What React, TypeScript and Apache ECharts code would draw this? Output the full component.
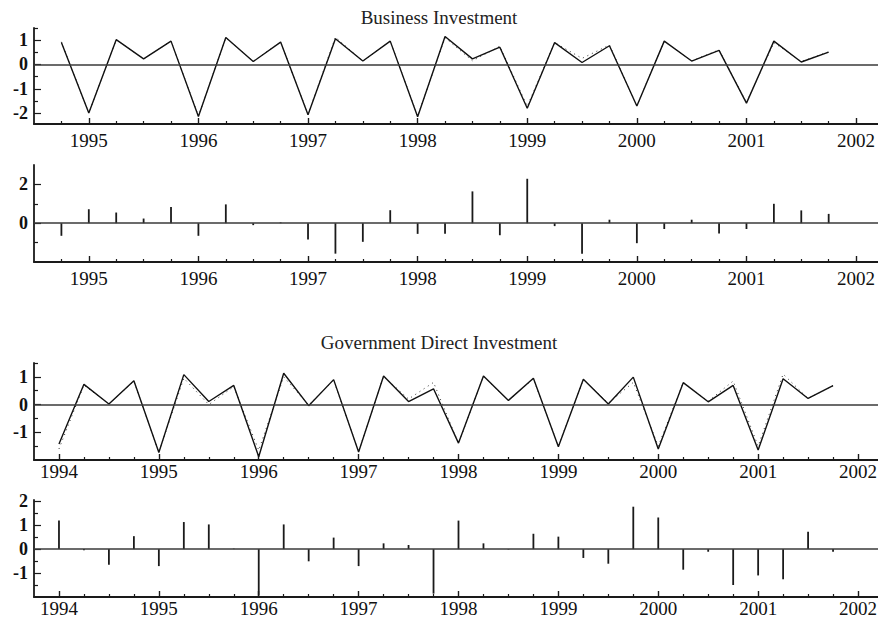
import React, { useEffect, useRef } from "react";
import * as echarts from "echarts";

// ---- Business Investment (quarterly, 1994Q4 - 2001Q4) ----
const bizQuarters = [
  1994.75, 1995.0, 1995.25, 1995.5, 1995.75, 1996.0, 1996.25, 1996.5, 1996.75,
  1997.0, 1997.25, 1997.5, 1997.75, 1998.0, 1998.25, 1998.5, 1998.75,
  1999.0, 1999.25, 1999.5, 1999.75, 2000.0, 2000.25, 2000.5, 2000.75,
  2001.0, 2001.25, 2001.5, 2001.75,
];
const bizActual = [
  0.9, -2.0, 1.02, 0.23, 0.96, -2.14, 1.11, 0.12, 0.92,
  -2.07, 1.06, 0.14, 0.96, -2.15, 1.15, 0.23, 0.71,
  -1.8, 0.9, 0.08, 0.77, -1.71, 0.96, 0.14, 0.58,
  -1.59, 0.96, 0.1, 0.51,
];
const bizFitted = [
  0.93, -2.0, 1.02, 0.23, 0.96, -2.12, 1.1, 0.13, 0.92,
  -2.05, 1.12, 0.14, 0.96, -2.13, 1.1, 0.15, 0.75,
  -1.72, 0.9, 0.25, 0.8, -1.7, 0.95, 0.15, 0.6,
  -1.57, 0.9, 0.12, 0.52,
];
const bizResidual = [
  -0.65, 0.72, 0.55, 0.24, 0.84, -0.65, 0.97, -0.1, 0.04,
  -0.84, -1.57, -0.96, 0.67, -0.55, -0.55, 1.64, -0.62,
  2.29, -0.15, -1.57, 0.18, -1.03, -0.3, 0.18, -0.53,
  -0.3, 1.0, 0.66, 0.48,
];

// ---- Government Direct Investment (quarterly, 1994Q1 - 2001Q4) ----
const govQuarters = [
  1994.0, 1994.25, 1994.5, 1994.75, 1995.0, 1995.25, 1995.5, 1995.75,
  1996.0, 1996.25, 1996.5, 1996.75, 1997.0, 1997.25, 1997.5, 1997.75,
  1998.0, 1998.25, 1998.5, 1998.75, 1999.0, 1999.25, 1999.5, 1999.75,
  2000.0, 2000.25, 2000.5, 2000.75, 2001.0, 2001.25, 2001.5, 2001.75,
];
const govActual = [
  -1.42, 0.73, 0.02, 0.86, -1.73, 1.08, 0.11, 0.69,
  -1.88, 1.13, -0.04, 0.9, -1.71, 1.03, 0.11, 0.57,
  -1.39, 1.03, 0.15, 0.95, -1.52, 0.91, 0.02, 0.99,
  -1.6, 0.79, 0.1, 0.69, -1.64, 0.93, 0.22, 0.68,
];
const govFitted = [
  -1.6, 0.7, 0.02, 0.84, -1.72, 0.95, 0.0, 0.65,
  -1.65, 1.0, -0.02, 0.88, -1.7, 1.02, 0.2, 0.8,
  -1.4, 1.02, 0.15, 0.93, -1.5, 0.9, 0.05, 0.8,
  -1.5, 0.8, 0.12, 0.85, -1.5, 1.1, 0.22, 0.68,
];
const govResidual = [
  1.19, -0.05, -0.65, 0.54, -0.71, 1.13, 1.03, 0.02,
  -1.94, 1.03, -0.51, 0.48, -0.71, 0.24, 0.17, -1.86,
  1.19, 0.24, -0.02, 0.64, 0.52, -0.37, -0.61, 1.77,
  1.32, -0.86, -0.11, -1.5, -1.1, -1.26, 0.72, -0.11,
];

// ---- tick labels ----
const bizYearTicks = [1995, 1996, 1997, 1998, 1999, 2000, 2001, 2002];
const govYearTicks = [1994, 1995, 1996, 1997, 1998, 1999, 2000, 2001, 2002];
const bizQuarterTicks = [1994.75, 1995.25, 1995.5, 1995.75, 1996.25, 1996.5, 1996.75, 1997.25, 1997.5, 1997.75, 1998.25, 1998.5, 1998.75, 1999.25, 1999.5, 1999.75, 2000.25, 2000.5, 2000.75, 2001.25, 2001.5, 2001.75];
const govQuarterTicks = [1994.25, 1994.5, 1994.75, ...bizQuarterTicks.slice(1)];

const titles = ["Business Investment", "Government Direct Investment"];

const FONT = "'Liberation Serif', 'Times New Roman', serif";

type PanelSpec = {
  top: number;
  height: number;
  xMin: number;
  yMin: number;
  yMax: number;
  years: number[];
  quarters: number[];
  yLabels: number[];
  yMinor: number[];
  labelMargin: number;
};

const panels: PanelSpec[] = [
  { top: 28, height: 96, xMin: 1994.5, yMin: -2.45, yMax: 1.5, years: bizYearTicks, quarters: bizQuarterTicks, yLabels: [-2, -1, 0, 1], yMinor: [-1.5, -0.5, 0.5, 1.5], labelMargin: 7 },
  { top: 165, height: 97, xMin: 1994.5, yMin: -2, yMax: 3, years: bizYearTicks, quarters: bizQuarterTicks, yLabels: [0, 2], yMinor: [-1, 1], labelMargin: 7 },
  { top: 363, height: 97, xMin: 1993.75, yMin: -2, yMax: 1.5, years: govYearTicks, quarters: govQuarterTicks, yLabels: [-1, 0, 1], yMinor: [-1.5, -0.5, 0.5, 1.5], labelMargin: 2 },
  { top: 500, height: 97, xMin: 1993.75, yMin: -2, yMax: 2.05, years: govYearTicks, quarters: govQuarterTicks, yLabels: [-1, 0, 1, 2], yMinor: [-1.5, -0.5, 0.5, 1.5], labelMargin: 2 },
];

const X_MAX = 2002.2;

function zip(xs: number[], ys: number[]) {
  return xs.map((x, i) => [x, ys[i]]);
}

const zeroLine = {
  silent: true,
  symbol: ["none", "none"],
  label: { show: false },
  lineStyle: { color: "#3a3a3a", width: 1.6, type: "solid" },
  data: [{ yAxis: 0 }],
};

function buildOption() {
  const grid: any[] = [];
  const xAxis: any[] = [];
  const yAxis: any[] = [];
  panels.forEach((p, i) => {
    grid.push({ left: 34, width: 844, top: p.top, height: p.height, outerBoundsMode: "none", containLabel: false });
    xAxis.push({
      type: "value", gridIndex: i, min: p.xMin, max: X_MAX, position: "bottom",
      axisLine: { show: true, onZero: false, lineStyle: { color: "#1a1a1a", width: 1.8 } },
      axisTick: { show: true, inside: true, length: 6, customValues: p.years, lineStyle: { color: "#1a1a1a", width: 1.4 } },
      axisLabel: { show: true, customValues: p.years, margin: p.labelMargin, fontFamily: FONT, fontSize: 19, color: "#111", formatter: (v: number) => String(Math.round(v)) },
      splitLine: { show: false },
    });
    xAxis.push({
      type: "value", gridIndex: i, min: p.xMin, max: X_MAX, position: "bottom",
      axisLine: { show: false, onZero: false },
      axisTick: { show: true, inside: true, length: 3, customValues: p.quarters, lineStyle: { color: "#1a1a1a", width: 1.2 } },
      axisLabel: { show: false },
      splitLine: { show: false },
    });
    yAxis.push({
      type: "value", gridIndex: i, min: p.yMin, max: p.yMax, position: "left",
      axisLine: { show: true, onZero: false, lineStyle: { color: "#1a1a1a", width: 1.8 } },
      axisTick: { show: true, inside: true, length: 7, customValues: p.yLabels, lineStyle: { color: "#1a1a1a", width: 1.2 } },
      axisLabel: { show: true, customValues: p.yLabels, margin: 6, fontFamily: FONT, fontSize: 18, fontWeight: "bold", color: "#111", formatter: (v: number) => String(v) },
      splitLine: { show: false },
    });
    yAxis.push({
      type: "value", gridIndex: i, min: p.yMin, max: p.yMax, position: "left",
      axisLine: { show: false, onZero: false },
      axisTick: { show: true, inside: true, length: 4, customValues: p.yMinor, lineStyle: { color: "#1a1a1a", width: 1.2 } },
      axisLabel: { show: false },
      splitLine: { show: false },
    });
  });

  const lineSeries = (idx: number, xs: number[], ys: number[], dotted: boolean, withZero: boolean) => ({
    type: "line",
    xAxisIndex: idx * 2,
    yAxisIndex: idx * 2,
    data: zip(xs, ys),
    showSymbol: false,
    symbol: "none",
    silent: true,
    lineStyle: dotted
      ? { color: "#333", width: 1, type: [1, 4] }
      : { color: "#111", width: 1.4, type: "solid" },
    z: dotted ? 3 : 4,
    ...(withZero ? { markLine: zeroLine } : {}),
  });

  const barSeries = (idx: number, xs: number[], ys: number[]) => ({
    type: "bar",
    xAxisIndex: idx * 2,
    yAxisIndex: idx * 2,
    data: zip(xs, ys),
    barWidth: 1.8,
    silent: true,
    itemStyle: { color: "#1a1a1a" },
    markLine: zeroLine,
  });

  const series = [
    lineSeries(0, bizQuarters, bizActual, false, true),
    lineSeries(0, bizQuarters, bizFitted, true, false),
    barSeries(1, bizQuarters, bizResidual),
    lineSeries(2, govQuarters, govActual, false, true),
    lineSeries(2, govQuarters, govFitted, true, false),
    barSeries(3, govQuarters, govResidual),
  ];

  return {
    animation: false,
    backgroundColor: "#ffffff",
    title: [
      { text: titles[0], left: "center", top: 3, textStyle: { fontFamily: FONT, fontSize: 19, fontWeight: "normal", color: "#222" } },
      { text: titles[1], left: "center", top: 328, textStyle: { fontFamily: FONT, fontSize: 19, fontWeight: "normal", color: "#222" } },
    ],
    grid,
    xAxis,
    yAxis,
    series,
  };
}

export default function App() {
  const ref = useRef<HTMLDivElement>(null);
  useEffect(() => {
    if (!ref.current) return;
    const chart = echarts.init(ref.current, undefined, { renderer: "svg" });
    chart.setOption(buildOption() as any);
    return () => chart.dispose();
  }, []);
  return (
    <div
      ref={ref}
      style={{ position: "absolute", left: 0, top: 0, width: 878, height: 622, background: "#fff" }}
    />
  );
}
